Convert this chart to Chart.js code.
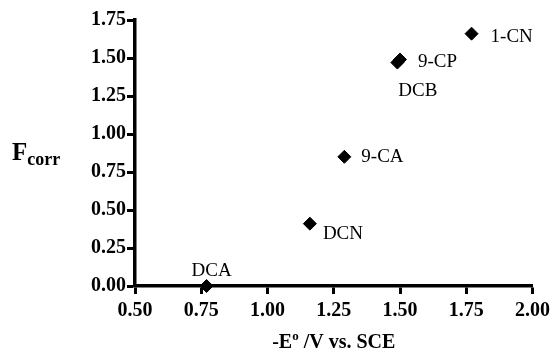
<!DOCTYPE html>
<html><head><meta charset="utf-8">
<script src="https://cdn.jsdelivr.net/npm/chart.js@4/dist/chart.umd.min.js"></script>
<style>html,body{margin:0;padding:0;background:#fff}#wrap{width:555px;height:352px;position:relative}</style>
</head><body><div id="wrap"><canvas id="c" width="555" height="352"></canvas></div>
<script>
// ---- data ----
const compounds  = ['DCA', 'DCN', '9-CA', 'DCB', '9-CP', '1-CN'];
const potentials = [0.77, 1.16, 1.29, 1.49, 1.50, 1.77];   // -E° / V vs. SCE
const fcorr      = [0.00, 0.41, 0.85, 1.47, 1.49, 1.66];   // F_corr
const xTicks = [0.50, 0.75, 1.00, 1.25, 1.50, 1.75, 2.00];
const yTicks = [0.00, 0.25, 0.50, 0.75, 1.00, 1.25, 1.50, 1.75];

// ---- label placement (pixel offsets from point) ----
const labelOffsets = {
  'DCA': [-15, -15], 'DCN': [13, 10], '9-CA': [17, 0],
  'DCB': [1, 28], '9-CP': [18, 2], '1-CN': [19, 3]
};

const SERIF = '"Liberation Serif", "Times New Roman", serif';

const labelPlugin = {
  id: 'pointLabels',
  afterDatasetsDraw(chart) {
    const ctx = chart.ctx;
    const meta = chart.getDatasetMeta(0);
    ctx.save();
    ctx.fillStyle = '#000';
    ctx.font = '19px ' + SERIF;
    ctx.textAlign = 'left';
    ctx.textBaseline = 'middle';
    meta.data.forEach((pt, i) => {
      const name = compounds[i];
      const off = labelOffsets[name] || [10, 0];
      ctx.fillText(name, pt.x + off[0], pt.y + off[1]);
    });
    ctx.restore();
  }
};

const titlePlugin = {
  id: 'axisTitles',
  afterDraw(chart) {
    const ctx = chart.ctx;
    ctx.save();
    ctx.fillStyle = '#000';
    ctx.textBaseline = 'alphabetic';
    ctx.textAlign = 'left';
    // Y title: F_corr
    ctx.font = 'bold 25px ' + SERIF;
    ctx.fillText('F', 12, 160);
    const fw = ctx.measureText('F').width;
    ctx.font = 'bold 18px ' + SERIF;
    ctx.fillText('corr', 12 + fw, 165);
    // X title: -E° /V vs. SCE
    const a = chart.chartArea;
    const cx = (a.left + a.right) / 2;
    const p1 = '-E', p2 = 'o', p3 = ' /V vs. SCE';
    ctx.font = 'bold 20px ' + SERIF;
    const w1 = ctx.measureText(p1).width, w3 = ctx.measureText(p3).width;
    ctx.font = 'bold 13px ' + SERIF;
    const w2 = ctx.measureText(p2).width;
    let x = cx - (w1 + w2 + w3) / 2;
    const by = 348;
    ctx.font = 'bold 20px ' + SERIF;
    ctx.fillText(p1, x, by); x += w1;
    ctx.font = 'bold 13px ' + SERIF;
    ctx.fillText(p2, x, by - 8); x += w2;
    ctx.font = 'bold 20px ' + SERIF;
    ctx.fillText(p3, x, by);
    ctx.restore();
  }
};

new Chart(document.getElementById('c'), {
  type: 'scatter',
  data: {
    datasets: [{
      data: potentials.map((x, i) => ({ x: x, y: fcorr[i] })),
      pointStyle: 'rectRot',
      pointRadius: 6.5,
      pointBorderWidth: 1,
      backgroundColor: '#000',
      borderColor: '#000',
      clip: false
    }]
  },
  options: {
    responsive: false,
    devicePixelRatio: 1,
    animation: false,
    events: [],
    layout: { padding: { top: 20, right: 20, left: 0, bottom: 0 } },
    plugins: { legend: { display: false }, tooltip: { enabled: false } },
    scales: {
      x: {
        type: 'linear',
        min: 0.5, max: 2.0,
        afterFit(s) { s.height = 66; },
        afterBuildTicks(s) { s.ticks = xTicks.map(v => ({ value: v })); },
        border: { display: true, color: '#000', width: 3.5 },
        grid: { display: true, drawOnChartArea: false, drawTicks: true, tickLength: 8, tickWidth: 3, tickColor: '#000' },
        ticks: {
          color: '#000', padding: 5, maxRotation: 0,
          font: { family: SERIF, size: 20, weight: 'bold' },
          callback: v => Number(v).toFixed(2)
        }
      },
      y: {
        type: 'linear',
        min: 0, max: 1.75,
        afterFit(s) { s.width = 135; },
        afterBuildTicks(s) { s.ticks = yTicks.map(v => ({ value: v })); },
        border: { display: true, color: '#000', width: 3.5 },
        grid: { display: true, drawOnChartArea: false, drawTicks: true, tickLength: 8, tickWidth: 3, tickColor: '#000' },
        ticks: {
          color: '#000', padding: 1,
          font: { family: SERIF, size: 20, weight: 'bold' },
          callback: v => Number(v).toFixed(2)
        }
      }
    }
  },
  plugins: [labelPlugin, titlePlugin]
});
</script>
</body></html>
